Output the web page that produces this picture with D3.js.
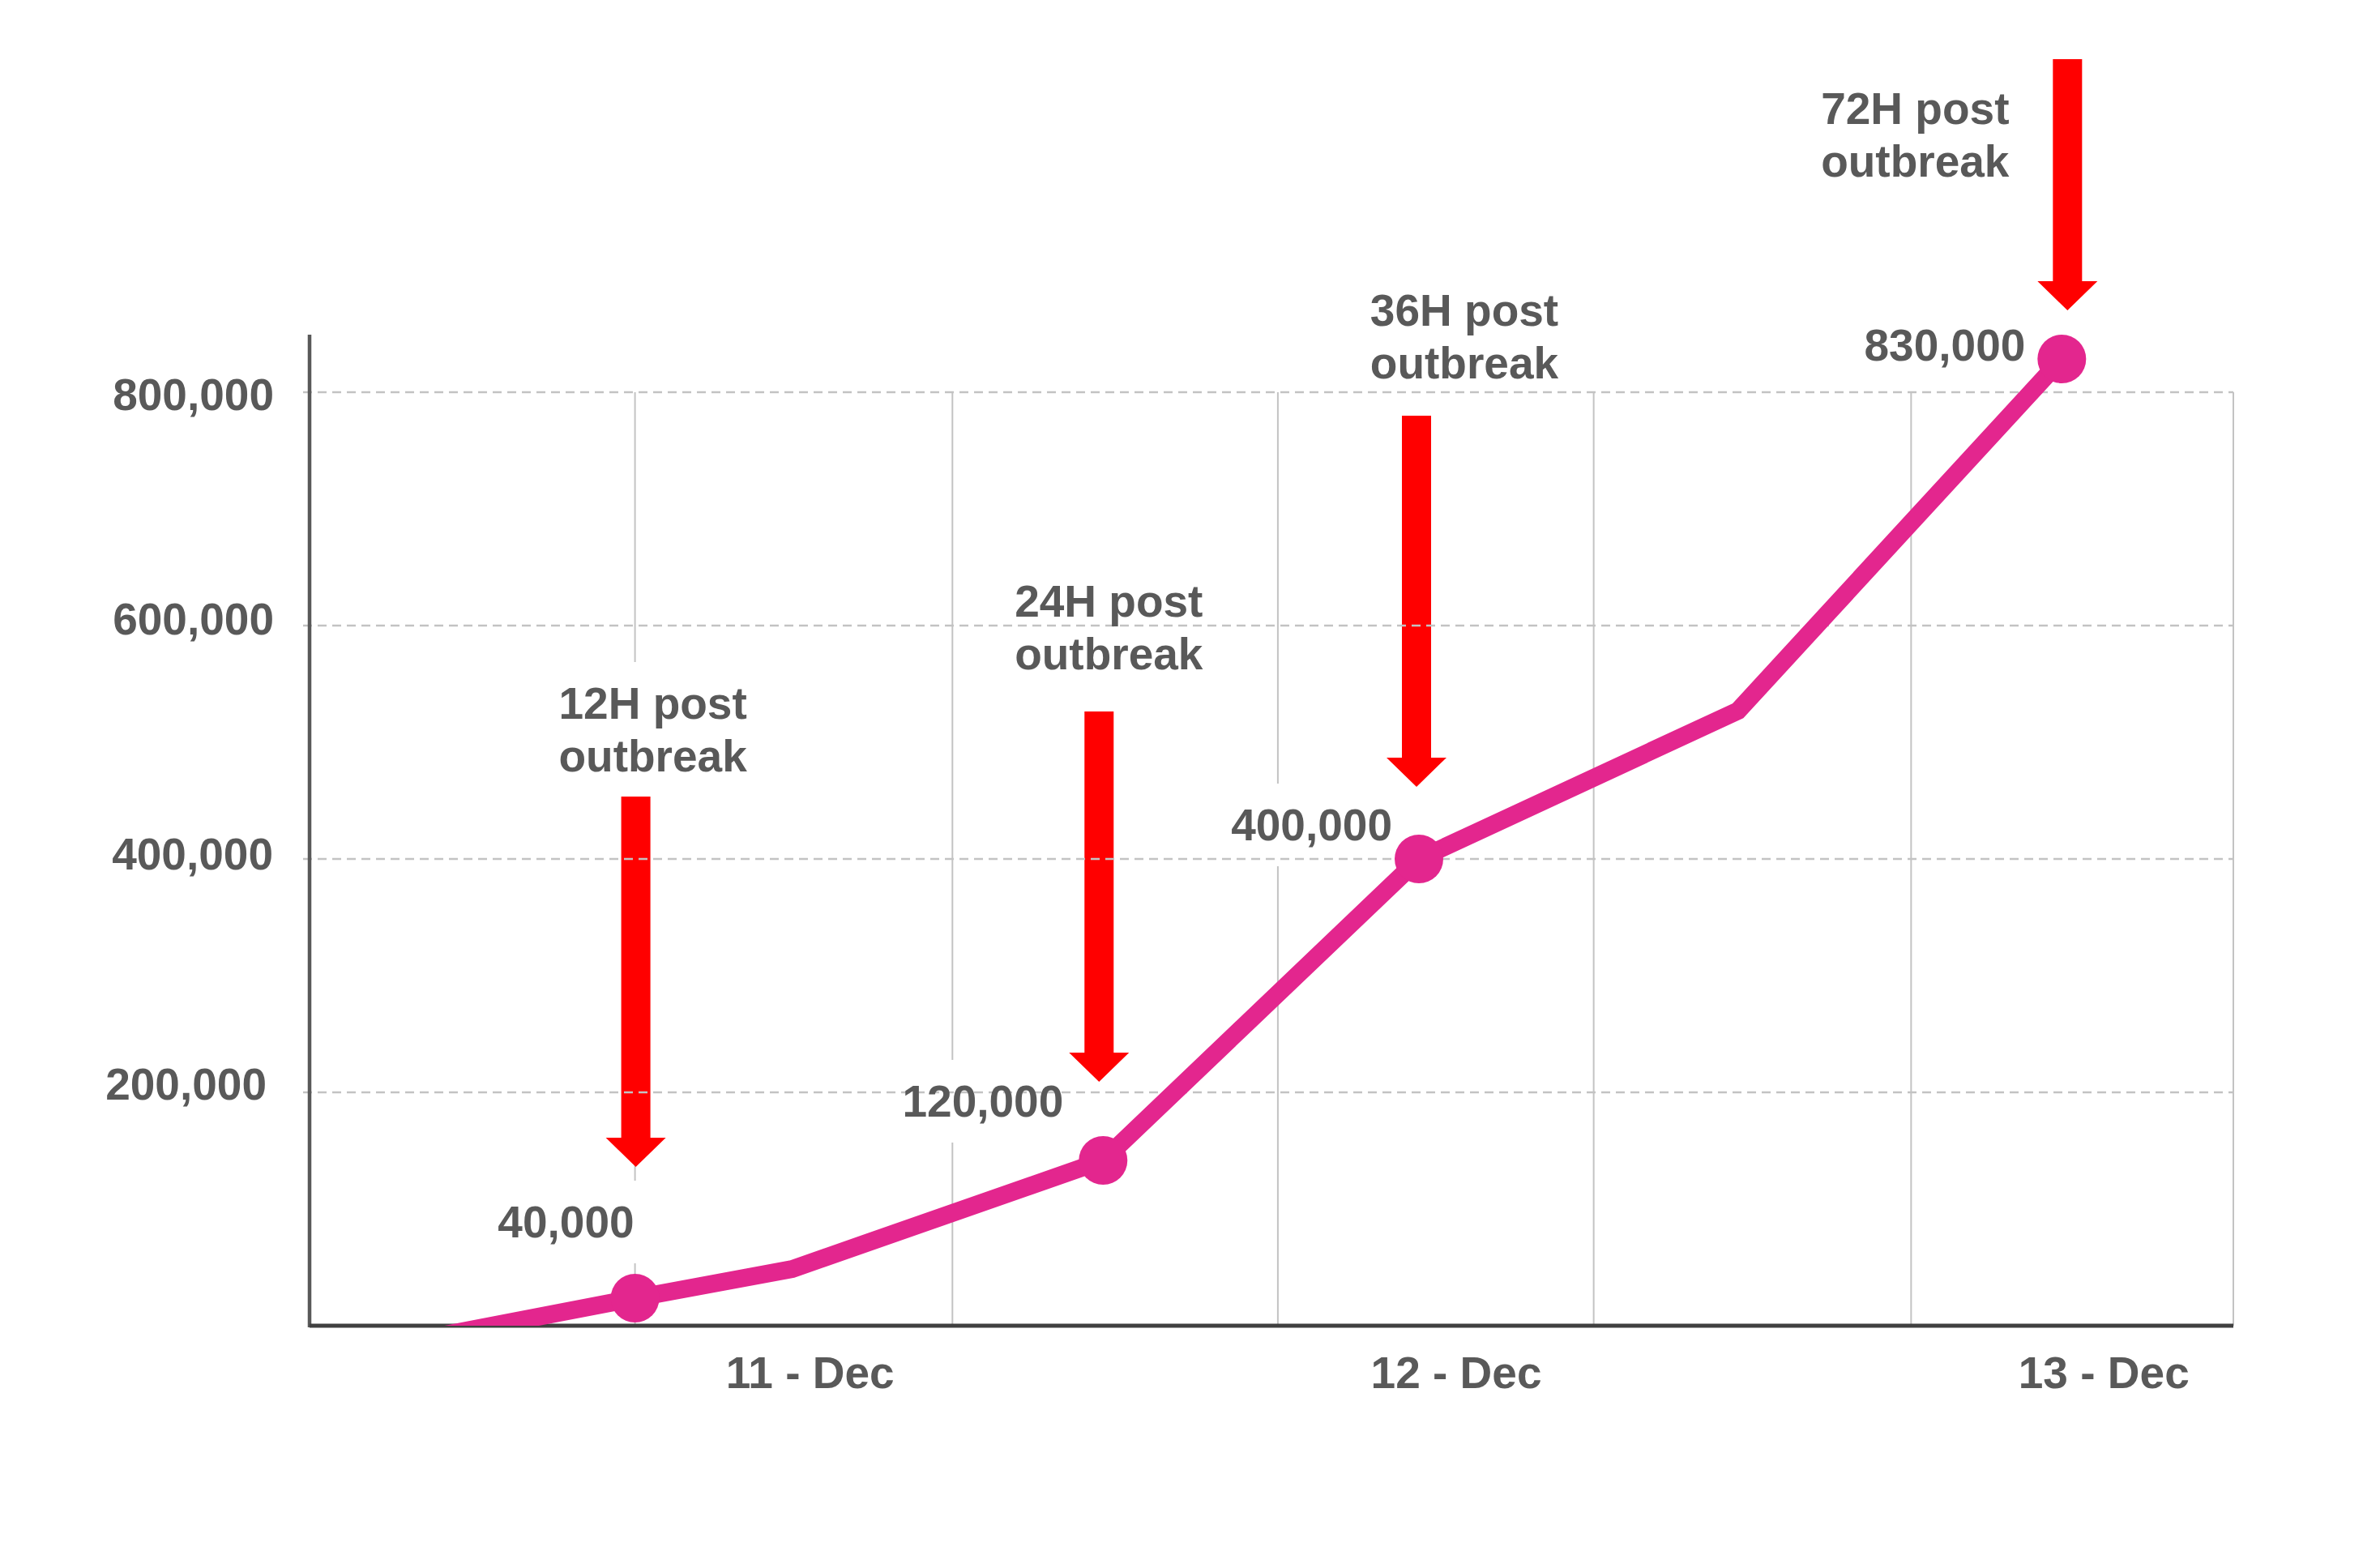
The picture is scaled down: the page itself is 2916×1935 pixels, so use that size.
<!DOCTYPE html>
<html>
<head>
<meta charset="utf-8">
<script src="https://cdn.jsdelivr.net/npm/d3@7"></script>
<style>
  html, body { margin: 0; padding: 0; background: #ffffff; }
  svg { display: block; }
</style>
</head>
<body>
<div id="chart"></div>
<script>
// ---------------- data ----------------
const slots  = [0, 2.03, 3.01, 4.95, 6.92, 8.91, 10.93];          // category slot positions
const values = [-30000, 23600, 48600, 141700, 400000, 527000, 828500];
const markerIdx   = [1, 3, 4, 6];
const valueLabels = ["40,000", "120,000", "400,000", "830,000"];
const annoLines   = [["12H post", "outbreak"], ["24H post", "outbreak"], ["36H post", "outbreak"], ["72H post", "outbreak"]];
const yTicks      = [200000, 400000, 600000, 800000];
const xTickLabels = ["11 - Dec", "12 - Dec", "13 - Dec"];
const xTickSlots  = [3.12, 7.15, 11.19];
const gridSlots   = [2.03, 4.01, 6.04, 8.01, 9.99, 12];

// ---------------- layout (pixel offsets) ----------------
const yLabelLayout = { 200000: [329, 8], 400000: [337, 12], 600000: [338, 10], 800000: [338, 21] };
const valueLabelOffsets = [[-1, -75], [-49, -54], [-33, -23], [-45, 2]];
const annoOffsets = [
  { tx: 22,   ty: -715, ax: 1,  top: -619, tip: -162 },
  { tx: 7,    ty: -671, ax: -5, top: -554, tip: -97 },
  { tx: 56,   ty: -658, ax: -3, top: -547, tip: -89 },
  { tx: -181, ty: -290, ax: 7,  top: -370, tip: -60 }
];

const W = 2916, H = 1935;
const X0 = 382, X1 = 2756, Y0 = 1636, YTOP = 413;
const textColor = "#595959";
const font = "'Liberation Sans', Arial, Helvetica, sans-serif";
const fs = 55;

const x = d3.scaleLinear().domain([0, 12]).range([X0, X1]);
const y = d3.scaleLinear().domain([0, 800000]).range([Y0, Y0 - 1152]);

const svg = d3.select("#chart").append("svg")
  .attr("width", W).attr("height", H)
  .style("font-family", font);

svg.append("defs").append("clipPath").attr("id", "plotClip")
  .append("rect").attr("x", X0).attr("y", 0).attr("width", X1 - X0).attr("height", Y0);

const gVGrid  = svg.append("g");
const gBoxes  = svg.append("g");
const gArrows = svg.append("g");
const gHGrid  = svg.append("g");
const gAxes   = svg.append("g");
const gLine   = svg.append("g").attr("clip-path", "url(#plotClip)");
const gMarks  = svg.append("g");
const gText   = svg.append("g");

// vertical gridlines
gVGrid.selectAll("line").data(gridSlots).join("line")
  .attr("x1", d => x(d)).attr("x2", d => x(d))
  .attr("y1", y(800000)).attr("y2", Y0)
  .attr("stroke", "#c3c3c3").attr("stroke-width", 2);

// horizontal dashed gridlines
gHGrid.selectAll("line").data(yTicks).join("line")
  .attr("x1", X0 - 8).attr("x2", X1)
  .attr("y1", d => y(d)).attr("y2", d => y(d))
  .attr("stroke", "#c3c3c3").attr("stroke-width", 2.5)
  .attr("stroke-dasharray", "11,7");

// y axis via d3.axisLeft, restyled
const yAxis = d3.axisLeft(y).tickValues(yTicks).tickSize(0).tickPadding(0)
  .tickFormat(d3.format(","));
const gy = gAxes.append("g").attr("transform", `translate(${X0},0)`).call(yAxis);
gy.select(".domain").remove();
gy.selectAll("text")
  .attr("x", d => yLabelLayout[d][0] - X0).attr("dy", null).attr("y", d => yLabelLayout[d][1])
  .attr("text-anchor", "end")
  .attr("fill", textColor).attr("font-size", fs).attr("font-weight", "bold")
  .attr("font-family", font);
gAxes.append("line").attr("x1", X0).attr("x2", X0).attr("y1", YTOP).attr("y2", Y0 + 2)
  .attr("stroke", "#595959").attr("stroke-width", 4.5);

// x axis labels via d3.axisBottom with custom tick positions
const xAxis = d3.axisBottom(x).tickValues(xTickSlots).tickSize(0).tickPadding(0)
  .tickFormat((d, i) => xTickLabels[i]);
const gx = gAxes.append("g").attr("transform", `translate(0,${Y0})`).call(xAxis);
gx.select(".domain").remove();
gx.selectAll("text")
  .attr("dy", null).attr("y", 1713 - Y0)
  .attr("fill", textColor).attr("font-size", fs).attr("font-weight", "bold")
  .attr("font-family", font);
gAxes.append("line").attr("x1", X0).attr("x2", X1).attr("y1", Y0).attr("y2", Y0)
  .attr("stroke", "#404040").attr("stroke-width", 5);

// series line
const pts = slots.map((s, i) => [x(s), y(values[i])]);
gLine.append("path")
  .attr("d", d3.line()(pts))
  .attr("fill", "none")
  .attr("stroke", "#e3268e").attr("stroke-width", 22)
  .attr("stroke-linejoin", "miter").attr("stroke-linecap", "butt");

// markers
gMarks.selectAll("circle").data(markerIdx).join("circle")
  .attr("cx", i => pts[i][0]).attr("cy", i => pts[i][1])
  .attr("r", 30).attr("fill", "#e3268e");

// helper to add white box behind a text element
function boxBehind(node, padX, padY) {
  const b = node.getBBox();
  gBoxes.append("rect")
    .attr("x", b.x - padX).attr("y", b.y - padY)
    .attr("width", b.width + 2 * padX).attr("height", b.height + 2 * padY)
    .attr("fill", "#ffffff");
}

// value labels
markerIdx.forEach((pi, k) => {
  const [px, py] = pts[pi];
  const [dx, dy] = valueLabelOffsets[k];
  const t = gText.append("text")
    .attr("x", px + dx).attr("y", py + dy)
    .attr("text-anchor", "end")
    .attr("fill", textColor).attr("font-size", fs).attr("font-weight", "bold")
    .text(valueLabels[k]);
  boxBehind(t.node(), 12, 20);
});

// annotations: text + arrow
markerIdx.forEach((pi, k) => {
  const [px, py] = pts[pi];
  const o = annoOffsets[k];
  const t = gText.append("text")
    .attr("x", px + o.tx).attr("y", py + o.ty)
    .attr("text-anchor", "middle")
    .attr("fill", textColor).attr("font-size", fs).attr("font-weight", "bold");
  annoLines[k].forEach((line, j) => {
    t.append("tspan").attr("x", px + o.tx).attr("dy", j === 0 ? 0 : 65).text(line);
  });
  boxBehind(t.node(), 12, 20);

  const cx = px + o.ax, top = py + o.top, tip = py + o.tip;
  const sw = 18, hw = 37, hh = 36;
  const poly = [
    [cx - sw, top], [cx + sw, top], [cx + sw, tip - hh], [cx + hw, tip - hh],
    [cx, tip], [cx - hw, tip - hh], [cx - sw, tip - hh]
  ];
  gArrows.append("path")
    .attr("d", "M" + poly.map(p => p.join(",")).join("L") + "Z")
    .attr("fill", "#ff0000");
});
</script>
</body>
</html>
